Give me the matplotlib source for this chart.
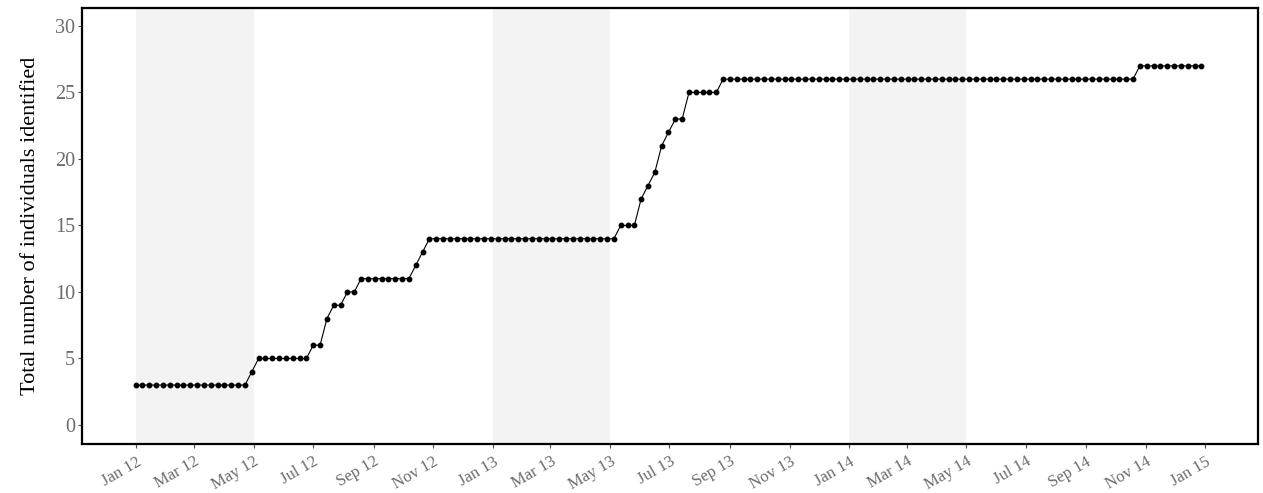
import matplotlib
matplotlib.use('Agg')
import matplotlib.pyplot as plt
import matplotlib.dates as mdates
import numpy as np
import pandas as pd

plt.rcParams['font.family'] = ['Liberation Serif', 'DejaVu Serif']

# weekly survey dates and cumulative count of identified individuals
start_date = '2012-01-01'
n_weeks = 157
totals = [3, 3, 3, 3, 3, 3, 3, 3, 3, 3, 3, 3, 3, 3, 3, 3, 3,
          4,
          5, 5, 5, 5, 5, 5, 5, 5,
          6, 6,
          8,
          9, 9,
          10, 10,
          11, 11, 11, 11, 11, 11, 11, 11,
          12,
          13,
          14, 14, 14, 14, 14, 14, 14, 14, 14, 14, 14, 14, 14, 14,
          14, 14, 14, 14, 14, 14, 14, 14, 14, 14, 14, 14, 14, 14,
          15, 15, 15,
          17,
          18,
          19,
          21,
          22,
          23, 23,
          25, 25, 25, 25, 25,
          26, 26, 26, 26, 26, 26, 26, 26, 26, 26, 26, 26, 26, 26, 26, 26,
          26, 26, 26, 26, 26, 26, 26, 26, 26, 26, 26, 26, 26, 26, 26, 26,
          26, 26, 26, 26, 26, 26, 26, 26, 26, 26, 26, 26, 26, 26, 26, 26,
          26, 26, 26, 26, 26, 26, 26, 26, 26, 26, 26, 26, 26,
          27, 27, 27, 27, 27, 27, 27, 27, 27, 27]
dates = pd.date_range(start_date, periods=n_weeks, freq='7D')

# shaded periods (Jan - May each year)
shade_starts = ['2012-01-01', '2013-01-01', '2014-01-01']
shade_ends = ['2012-05-01', '2013-05-01', '2014-05-01']

fig = plt.figure(figsize=(12.63, 4.93), dpi=100)
ax = fig.add_axes([0.0649, 0.0994, 0.9311, 0.8844])

for s, e in zip(shade_starts, shade_ends):
    ax.axvspan(pd.Timestamp(s), pd.Timestamp(e), color='#f3f3f3', lw=0, zorder=0)

ax.plot(dates, totals, color='black', lw=0.8, marker='o', ms=3.2, zorder=3)

ax.set_xlim(pd.Timestamp('2011-11-07'), pd.Timestamp('2015-02-24'))
ax.set_ylim(-1.43, 31.35)
ax.set_yticks([0, 5, 10, 15, 20, 25, 30])

ax.xaxis.set_major_locator(mdates.MonthLocator(bymonth=[1, 3, 5, 7, 9, 11]))
ax.xaxis.set_major_formatter(mdates.DateFormatter('%b %y'))
for lbl in ax.get_xticklabels():
    lbl.set_rotation(30)
    lbl.set_ha('right')
    lbl.set_rotation_mode('anchor')

ax.tick_params(axis='y', labelsize=14.5, length=3, width=0.8, color='#4d4d4d', pad=2)
ax.tick_params(axis='x', labelsize=12, length=3, width=0.8, color='#4d4d4d', pad=4)
for lbl in ax.get_xticklabels() + ax.get_yticklabels():
    lbl.set_color('#6b6b6b')

for sp in ax.spines.values():
    sp.set_linewidth(1.6)
    sp.set_color('black')

ax.set_ylabel('Total number of individuals identified', fontsize=16, labelpad=11)

plt.savefig('out.png', dpi=100)
